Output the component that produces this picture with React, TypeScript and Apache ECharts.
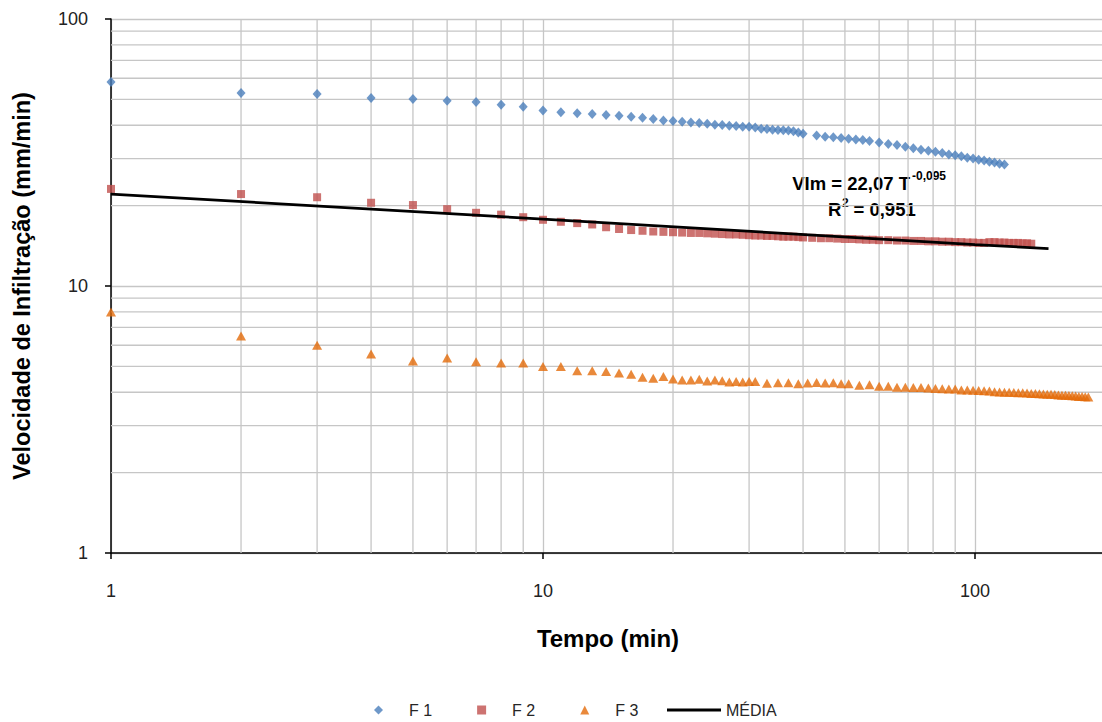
import React, { useEffect, useRef } from "react";
import * as echarts from "echarts";

// ---- Data ----
const F1_TEMPO = [1,2,3,4,5,6,7,8,9,10,11,12,13,14,15,16,17,18,19,20,21,22,23,24,25,26,27,28,29,30,31,32,33,34,35,36,37,38,39,40,43,45,47,49,51,53,55,57,60,63,66,69,72,75,78,81,84,87,90,93,96,99,102,105,108,111,114,117];
const F1_VI = [58.1,52.8,52.4,50.6,50.2,49.4,48.9,47.7,46.9,45.4,44.7,44.4,44.1,43.7,43.4,43.0,42.7,42.2,41.7,41.5,41.2,41.0,40.8,40.5,40.2,40.1,39.8,39.7,39.5,39.5,39.2,38.8,38.7,38.5,38.4,38.3,38.2,38.0,37.6,37.2,36.6,36.2,36.1,35.8,35.6,35.4,35.2,34.9,34.5,34.0,33.7,33.2,32.8,32.4,32.1,31.8,31.5,31.1,30.9,30.6,30.2,30.0,29.7,29.5,29.2,29.0,28.7,28.5];

const F2_TEMPO = [1,2,3,4,5,6,7,8,9,10,11,12,13,14,15,16,17,18,19,20,21,22,23,24,25,26,27,28,29,30,31,32,33,34,35,36,37,38,39,40,42,44,46,48,50,52,54,56,58,60,63,66,69,72,75,78,81,84,87,90,93,96,99,102,105,108,111,114,117,120,123,126,129,132,135];
const F2_VI = [23.1,22.1,21.5,20.5,20.1,19.4,18.8,18.5,18.1,17.7,17.4,17.2,17.0,16.6,16.35,16.2,16.1,16.0,15.95,15.9,15.85,15.8,15.8,15.75,15.7,15.65,15.6,15.6,15.55,15.5,15.45,15.45,15.4,15.4,15.35,15.3,15.3,15.3,15.25,15.2,15.15,15.1,15.1,15.05,15.0,15.0,14.95,14.9,14.9,14.85,14.85,14.8,14.8,14.75,14.75,14.7,14.7,14.65,14.65,14.6,14.6,14.55,14.55,14.5,14.5,14.6,14.6,14.55,14.55,14.5,14.5,14.5,14.45,14.45,14.4];

const F3_TEMPO = [1,2,3,4,5,6,7,8,9,10,11,12,13,14,15,16,17,18,19,20,21,22,23,24,25,26,27,28,29,30,31,33,35,37,39,41,43,45,47,49,51,54,57,60,63,66,69,72,75,78,81,84,87,90,93,96,99,102,105,108,111,114,117,120,123,126,129,132,135,138,141,144,147,150,153,156,159,162,165,168,171,174,177,180,183];
const F3_VI = [7.99,6.5,6.0,5.56,5.24,5.37,5.2,5.15,5.15,5.0,4.99,4.82,4.82,4.78,4.72,4.67,4.55,4.51,4.58,4.48,4.45,4.45,4.47,4.41,4.45,4.42,4.37,4.39,4.37,4.39,4.39,4.32,4.34,4.34,4.30,4.33,4.35,4.33,4.34,4.30,4.30,4.25,4.27,4.21,4.21,4.18,4.18,4.17,4.17,4.15,4.13,4.12,4.11,4.11,4.08,4.08,4.07,4.06,4.05,4.04,4.02,4.01,4.00,4.00,3.99,3.98,3.98,3.97,3.96,3.96,3.95,3.94,3.93,3.93,3.92,3.91,3.90,3.90,3.89,3.88,3.87,3.86,3.86,3.85,3.84];

const MEDIA_TEMPO = [1, 10, 100, 148];
const MEDIA_VI = [22.1, 17.8, 14.3, 13.8];

const X_MIN = 1;
const X_MAX = 200;
const Y_MIN = 1;
const Y_MAX = 100;
const X_MINOR_GRID = [2,3,4,5,6,7,8,9,20,30,40,50,60,70,80,90];
const Y_MINOR_GRID = [2,3,4,5,6,7,8,9,20,30,40,50,60,70,80,90];

const FONT = "Liberation Sans";

const pairs = (xs: number[], ys: number[]) => xs.map((x, i) => [x, ys[i]]);
const isPow10 = (v: number) => Math.abs(Math.log10(v) - Math.round(Math.log10(v))) < 1e-6;

export default function App() {
  const ref = useRef<HTMLDivElement>(null);
  useEffect(() => {
    const chart = echarts.init(ref.current as HTMLDivElement, null, { renderer: "svg" });
    const gridStroke = { stroke: "#c6c6c6", lineWidth: 1.3 };
    const legendText = { fontSize: 16, color: "#262626", fontFamily: FONT };
    const annot = (text: string, x: number, y: number, size: number, align: string) => ({
      type: "text",
      x,
      y,
      silent: true,
      style: { text, align, verticalAlign: "middle", fontSize: size, fontWeight: "bold", fill: "#000", fontFamily: FONT },
    });
    chart.setOption({
      animation: false,
      backgroundColor: "#ffffff",
      textStyle: { fontFamily: FONT },
      grid: { left: 111, top: 19, right: -3, bottom: 169, containLabel: false, outerBoundsMode: "none" },
      legend: [
        {
          data: [
            { name: "F 1", icon: "diamond" },
            { name: "F 2", icon: "rect" },
            { name: "F 3", icon: "triangle" },
          ],
          left: 369,
          top: 697,
          itemWidth: 9,
          itemHeight: 9,
          itemGap: 45,
          selectedMode: false,
          textStyle: { ...legendText, padding: [0, 0, 0, 21] },
        },
        {
          data: [{ name: "MÉDIA", icon: "rect" }],
          left: 662,
          top: 697,
          itemWidth: 54,
          itemHeight: 3,
          selectedMode: false,
          textStyle: legendText,
        },
      ],
      xAxis: {
        type: "log",
        logBase: 10,
        min: X_MIN,
        max: X_MAX,
        name: "Tempo (min)",
        nameLocation: "middle",
        nameGap: 73,
        nameTextStyle: { fontSize: 24, fontWeight: "bold", color: "#000", fontFamily: FONT },
        axisLine: { show: true, onZero: false, lineStyle: { color: "#000", width: 1.5 } },
        axisTick: { show: true, length: 6, lineStyle: { color: "#000", width: 1.5 } },
        axisLabel: {
          margin: 29,
          fontSize: 18,
          color: "#222",
          fontFamily: FONT,
          formatter: (v: number) => (isPow10(v) ? String(Math.round(v)) : ""),
        },
        splitLine: { show: true, lineStyle: { color: "#c6c6c6", width: 1.3 } },
        minorTick: { show: false },
        minorSplitLine: { show: false },
      },
      yAxis: {
        type: "log",
        logBase: 10,
        min: Y_MIN,
        max: Y_MAX,
        name: "Velocidade de Infiltração (mm/min)",
        nameLocation: "middle",
        nameGap: 77,
        nameTextStyle: { fontSize: 23.5, fontWeight: "bold", color: "#000", fontFamily: FONT },
        axisLine: { show: true, onZero: false, lineStyle: { color: "#000", width: 1.5 } },
        axisTick: { show: true, length: 6, lineStyle: { color: "#000", width: 1.5 } },
        axisLabel: {
          margin: 23,
          fontSize: 18,
          color: "#222",
          fontFamily: FONT,
          formatter: (v: number) => (isPow10(v) ? String(Math.round(v)) : ""),
        },
        splitLine: { show: true, lineStyle: { color: "#c6c6c6", width: 1.3 } },
        minorTick: { show: false },
        minorSplitLine: { show: false },
      },
      graphic: [
        annot("VIm = 22,07 T", 910, 183, 18.5, "right"),
        annot("-0,095", 912, 176, 12, "left"),
        annot("R", 828, 209, 18.5, "left"),
        annot("2", 842, 203, 12, "left"),
        annot("= 0,951", 853.5, 209, 18.5, "left"),
      ],
      series: [
        {
          type: "custom",
          name: "gridX",
          z: 1,
          silent: true,
          data: X_MINOR_GRID.map((v) => [v, Y_MIN]),
          renderItem: (_p: any, api: any) => {
            const x = api.value(0);
            const a = api.coord([x, Y_MIN]);
            const b = api.coord([x, Y_MAX]);
            return { type: "line", shape: { x1: a[0], y1: a[1], x2: b[0], y2: b[1] }, style: gridStroke, silent: true };
          },
        },
        {
          type: "custom",
          name: "gridY",
          z: 1,
          silent: true,
          data: Y_MINOR_GRID.map((v) => [X_MIN, v]),
          renderItem: (_p: any, api: any) => {
            const y = api.value(1);
            const a = api.coord([X_MIN, y]);
            const b = api.coord([X_MAX, y]);
            return { type: "line", shape: { x1: a[0], y1: a[1], x2: b[0], y2: b[1] }, style: gridStroke, silent: true };
          },
        },
        {
          type: "scatter",
          name: "F 1",
          symbol: "diamond",
          symbolSize: [9, 10],
          clip: false,
          z: 2,
          itemStyle: { color: "#4A7EBB" },
          data: pairs(F1_TEMPO, F1_VI),
        },
        {
          type: "scatter",
          name: "F 2",
          symbol: "rect",
          symbolSize: 8,
          clip: false,
          z: 2,
          itemStyle: { color: "#C0504D" },
          data: pairs(F2_TEMPO, F2_VI),
        },
        {
          type: "scatter",
          name: "F 3",
          symbol: "triangle",
          symbolSize: [10, 9],
          clip: false,
          z: 2,
          itemStyle: { color: "#E46C0A" },
          data: pairs(F3_TEMPO, F3_VI),
        },
        {
          type: "line",
          name: "MÉDIA",
          symbol: "none",
          showSymbol: false,
          clip: false,
          z: 3,
          itemStyle: { color: "#000" },
          lineStyle: { color: "#000", width: 2.75 },
          data: pairs(MEDIA_TEMPO, MEDIA_VI),
        },
      ],
    });
    return () => chart.dispose();
  }, []);
  return (
    <div
      ref={ref}
      style={{ position: "absolute", left: 0, top: 0, width: 1102, height: 722, background: "#fff" }}
    />
  );
}
